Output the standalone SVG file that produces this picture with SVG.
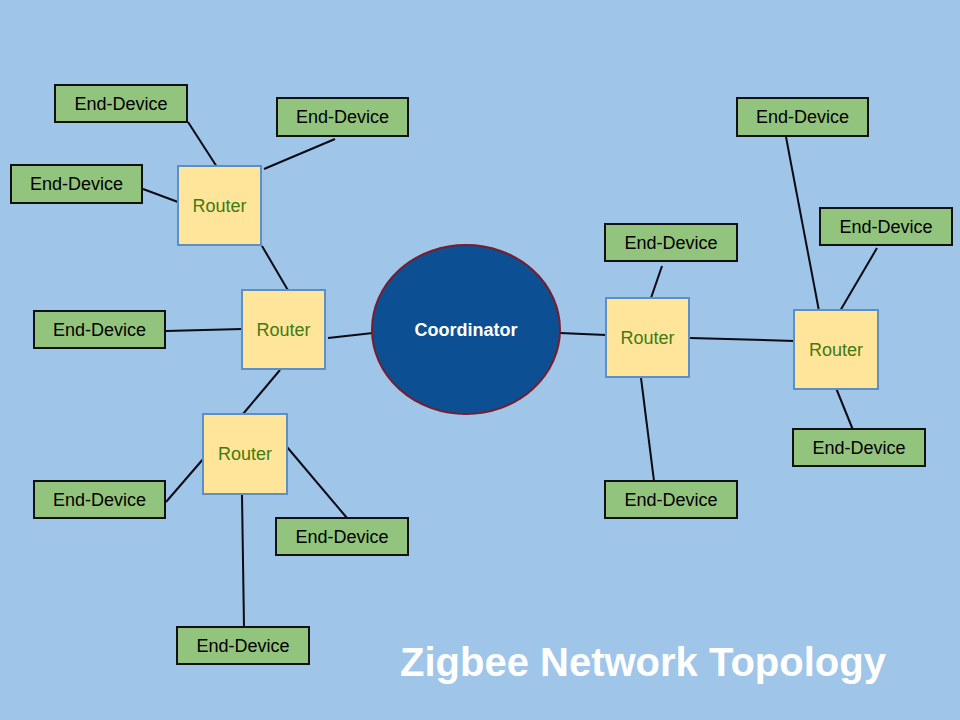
<svg xmlns="http://www.w3.org/2000/svg" width="960" height="720" viewBox="0 0 960 720">
<style>
.ed rect{fill:#93c47d;stroke:#111;stroke-width:2}
.ed text{font-family:"Liberation Sans",Arial,sans-serif;font-size:18px;fill:#000;text-anchor:middle}
.rt rect{fill:#ffe599;stroke:#5b8fc7;stroke-width:2}
.rt text{font-family:"Liberation Sans",Arial,sans-serif;font-size:18px;fill:#3f7a12;text-anchor:middle}
#connectors line{stroke:#0a0a14;stroke-width:2}
</style>
<rect x="0" y="0" width="960" height="720" fill="#9fc5e8"/>
<g id="connectors">
<line x1="188" y1="122" x2="217" y2="167"/>
<line x1="335" y1="139" x2="264" y2="169"/>
<line x1="143" y1="189" x2="178" y2="202"/>
<line x1="262" y1="246" x2="289" y2="292"/>
<line x1="166" y1="331" x2="242" y2="329"/>
<line x1="328" y1="338" x2="373" y2="333"/>
<line x1="280" y1="370" x2="243" y2="414"/>
<line x1="204" y1="458" x2="166" y2="502"/>
<line x1="287" y1="447" x2="347" y2="518"/>
<line x1="242" y1="495" x2="244" y2="627"/>
<line x1="560" y1="333" x2="606" y2="335"/>
<line x1="662" y1="266" x2="651" y2="298"/>
<line x1="690" y1="338" x2="795" y2="341"/>
<line x1="641" y1="378" x2="654" y2="481"/>
<line x1="786" y1="137" x2="819" y2="311"/>
<line x1="877" y1="248" x2="840" y2="311"/>
<line x1="836" y1="388" x2="853" y2="430"/>
</g>
<g id="coordinator">
<ellipse cx="466" cy="329.5" rx="94" ry="84.5" fill="#0d4f93" stroke="#7a1c2c" stroke-width="2"/>
<text x="466" y="336" font-family="Liberation Sans,Arial,sans-serif" font-size="18" font-weight="bold" fill="#fff" text-anchor="middle">Coordinator</text>
</g>
<g id="router1" class="rt"><rect x="178" y="166" width="83" height="79"/><text x="219.5" y="211.5">Router</text></g>
<g id="router2" class="rt"><rect x="242" y="290" width="83" height="79"/><text x="283.5" y="335.5">Router</text></g>
<g id="router3" class="rt"><rect x="203" y="414" width="84" height="80"/><text x="245" y="460">Router</text></g>
<g id="router4" class="rt"><rect x="606" y="298" width="83" height="79"/><text x="647.5" y="343.5">Router</text></g>
<g id="router5" class="rt"><rect x="794" y="310" width="84" height="79"/><text x="836" y="355.5">Router</text></g>
<g id="ed1" class="ed"><rect x="55" y="85" width="132" height="37"/><text x="121" y="109.5">End-Device</text></g>
<g id="ed2" class="ed"><rect x="277" y="98" width="131" height="38"/><text x="342.5" y="123">End-Device</text></g>
<g id="ed3" class="ed"><rect x="11" y="165" width="131" height="38"/><text x="76.5" y="190">End-Device</text></g>
<g id="ed4" class="ed"><rect x="34" y="311" width="131" height="37"/><text x="99.5" y="335.5">End-Device</text></g>
<g id="ed5" class="ed"><rect x="34" y="481" width="131" height="37"/><text x="99.5" y="505.5">End-Device</text></g>
<g id="ed6" class="ed"><rect x="276" y="518" width="132" height="37"/><text x="342" y="542.5">End-Device</text></g>
<g id="ed7" class="ed"><rect x="177" y="627" width="132" height="37"/><text x="243" y="651.5">End-Device</text></g>
<g id="ed8" class="ed"><rect x="605" y="224" width="132" height="37"/><text x="671" y="248.5">End-Device</text></g>
<g id="ed9" class="ed"><rect x="605" y="481" width="132" height="37"/><text x="671" y="505.5">End-Device</text></g>
<g id="ed10" class="ed"><rect x="737" y="98" width="131" height="38"/><text x="802.5" y="123">End-Device</text></g>
<g id="ed11" class="ed"><rect x="820" y="208" width="132" height="37"/><text x="886" y="232.5">End-Device</text></g>
<g id="ed12" class="ed"><rect x="793" y="429" width="132" height="37"/><text x="859" y="453.5">End-Device</text></g>
<text x="400" y="676" font-family="Liberation Sans,Arial,sans-serif" font-size="40" font-weight="bold" fill="#fff">Zigbee Network Topology</text>
</svg>
